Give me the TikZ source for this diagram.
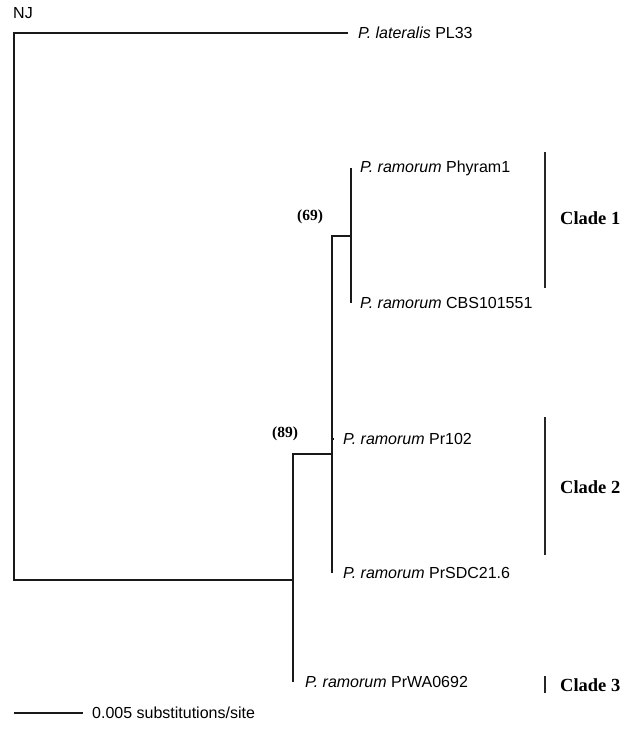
\documentclass[tikz,border=0pt]{standalone}
\usepackage{fontspec}
\setmainfont{Liberation Sans}
\newfontfamily\cladefont{Liberation Serif}
\begin{document}
\begin{tikzpicture}[x=1pt,y=-1pt,
  branch/.style={line width=1.4pt, draw=black!90},
  cladebar/.style={line width=2.6pt, draw=black!85},
  tiplabel/.style={anchor=west, inner sep=0pt, font=\fontsize{16}{18}\selectfont},
  cladelabel/.style={anchor=west, inner sep=0pt, font=\cladefont\bfseries\fontsize{18.5}{20}\selectfont},
  bootlabel/.style={inner sep=0pt, font=\cladefont\bfseries\fontsize{15.5}{17}\selectfont}]
\useasboundingbox (0,0) rectangle (632,734);

% tree coordinates
\coordinate (rootBot) at (14,580);
\coordinate (lat) at (348,33);
\coordinate (n89) at (293,580);
\coordinate (wa) at (293,682);
\coordinate (n2) at (332,454);
\coordinate (pr102) at (332,439);
\coordinate (sdc) at (332,573);
\coordinate (n1) at (351,236);
\coordinate (phy) at (351,168);
\coordinate (cbs) at (351,303);

% branches
\draw[branch] (lat) -| (rootBot) -- (n89);
\draw[branch] (wa) |- (n2);
\draw[branch] (sdc) |- (n1);
\draw[branch] (phy) -- (cbs);
\draw[branch] (pr102) -- ++(1.5,0);

% labels
\node[anchor=west, inner sep=0pt, font=\fontsize{16}{18}\selectfont] (nj) at (13,13) {NJ};
\node[tiplabel] (Llat) at ([xshift=10]lat) {\textit{P. lateralis} PL33};
\node[tiplabel] (Lphy) at ([xshift=9]phy) {\textit{P. ramorum} Phyram1};
\node[tiplabel] (Lcbs) at ([xshift=9]cbs) {\textit{P. ramorum} CBS101551};
\node[tiplabel] (Lpr) at ([xshift=11]pr102) {\textit{P. ramorum} Pr102};
\node[tiplabel] (Lsdc) at ([xshift=11]sdc) {\textit{P. ramorum} PrSDC21.6};
\node[tiplabel] (Lwa) at ([xshift=12]wa) {\textit{P. ramorum} PrWA0692};

% bootstrap values
\node[bootlabel] (b69) at (310,217) {(69)};
\node[bootlabel] (b89) at (285,434) {(89)};

% clade bars
\coordinate (c1a) at (545,152); \coordinate (c1b) at (545,288);
\coordinate (c2a) at (545,417); \coordinate (c2b) at (545,555);
\coordinate (c3a) at (545,676); \coordinate (c3b) at (545,693);
\draw[cladebar] (c1a) -- (c1b);
\draw[cladebar] (c2a) -- (c2b);
\draw[cladebar] (c3a) -- (c3b);
\node[cladelabel] (cl1) at (560,218) {Clade 1};
\node[cladelabel] (cl2) at (560,487) {Clade 2};
\node[cladelabel] (cl3) at (560,685) {Clade 3};

% scale bar
\coordinate (sb1) at (14,713);
\coordinate (sb2) at (83,713);
\draw[branch, line width=1.2pt] (sb1) -- (sb2);
\node[tiplabel] (sbl) at (92,713) {0.005 substitutions/site};
\end{tikzpicture}
\end{document}
